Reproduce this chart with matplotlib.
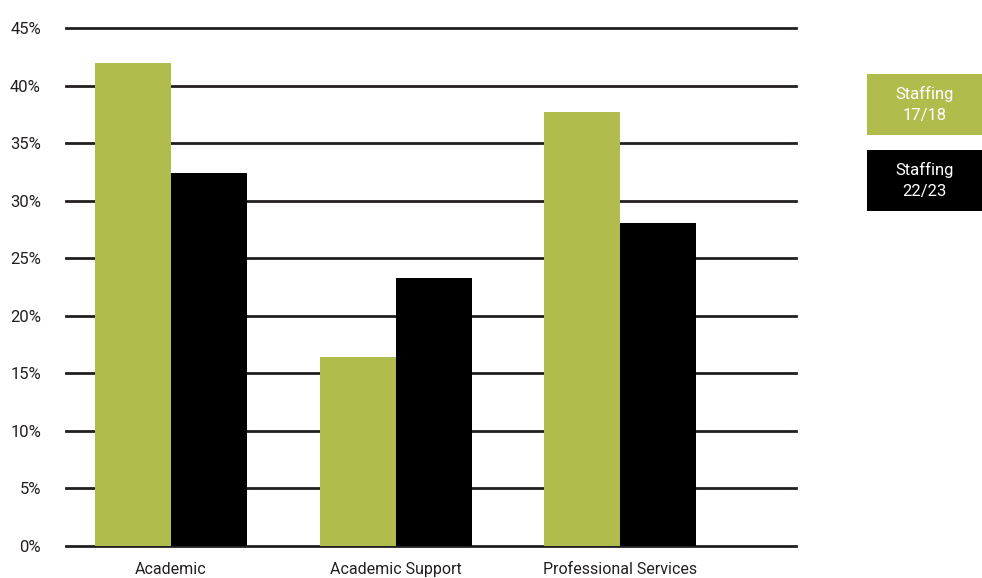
import matplotlib
matplotlib.use('Agg')
from matplotlib import pyplot as plt
from matplotlib.patches import Rectangle

plt.rcParams['font.family'] = ['Roboto', 'DejaVu Sans']

categories = ['Academic', 'Academic Support', 'Professional Services']
staff_1718 = [42.0, 16.4, 37.7]
staff_2223 = [32.4, 23.3, 28.1]
series_names = ['Staffing\n17/18', 'Staffing\n22/23']
green = '#b0bc4c'
black = '#000000'

fig = plt.figure(figsize=(9.82, 5.78), dpi=100)
ax = fig.add_axes([66/982, 32/578, 730/982, 518/578])

x = list(range(len(categories)))
w = 0.3385
ax.bar([i - w/2 for i in x], staff_1718, width=w, color=green, zorder=3)
ax.bar([i + w/2 for i in x], staff_2223, width=w, color=black, zorder=3)

ax.set_ylim(0, 45)
ax.set_xlim(-0.468, 2.784)
ax.set_yticks(range(0, 50, 5))
ax.set_yticklabels([f'{v}%' for v in range(0, 50, 5)], fontsize=12, color='#231f20')
ax.set_xticks(x)
ax.set_xticklabels(categories, fontsize=11.5, color='#231f20')
for lab in ax.get_xticklabels():
    lab.set_verticalalignment('baseline')
ax.tick_params(axis='both', length=0)
ax.tick_params(axis='y', pad=18)
ax.tick_params(axis='x', pad=20.5)
ax.yaxis.grid(True, color='#231f20', linewidth=2, zorder=1)
for gl in ax.get_ygridlines():
    gl.set_clip_on(False)
for s in ax.spines.values():
    s.set_visible(False)

# legend boxes
boxes = [(74, green), (150, black)]
for (top, col), name in zip(boxes, series_names):
    fig.patches.append(Rectangle((867/982, 1 - (top + 61)/578), 115/982, 61/578,
                                 transform=fig.transFigure, facecolor=col, edgecolor='none'))
    fig.text((867 + 115/2)/982, 1 - (top + 30.5)/578, name, color='white',
             ha='center', va='center', fontsize=12, linespacing=1.45)

fig.savefig('out.png', dpi=100)
